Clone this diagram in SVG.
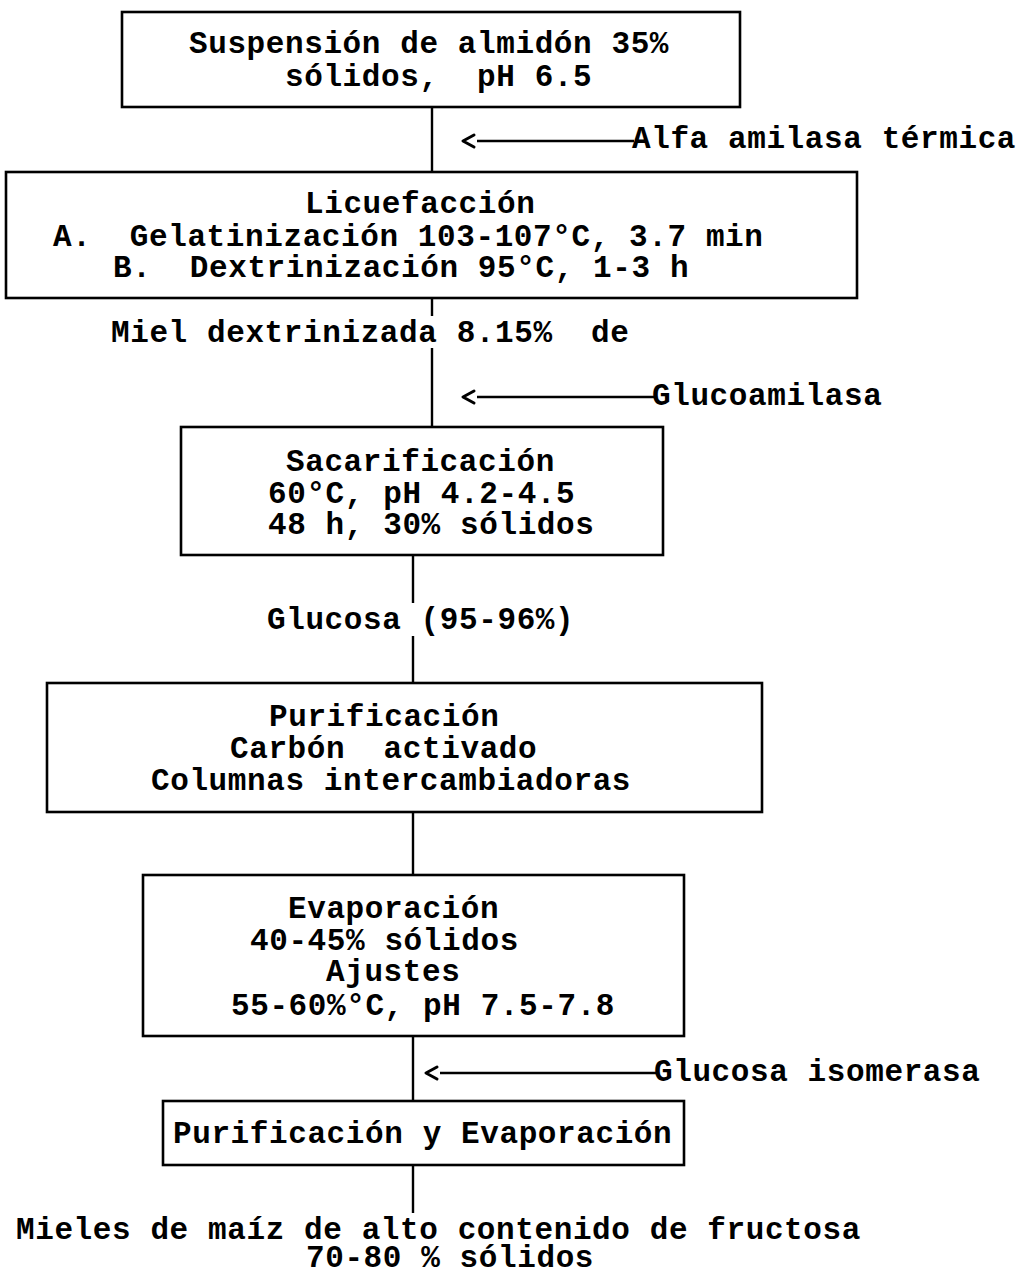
<svg xmlns="http://www.w3.org/2000/svg" width="1024" height="1274" viewBox="0 0 1024 1274">
<style>
.box{fill:#fff;stroke:#000;stroke-width:2.6}
.ln{stroke:#000;stroke-width:2.4;fill:none}
.ar{stroke:#000;stroke-width:3;fill:none;stroke-linecap:round;stroke-linejoin:round}
text{font-family:"Liberation Mono","Courier New",monospace;font-weight:bold;font-size:31px;letter-spacing:0.6px;fill:#000;white-space:pre}
</style>
<rect width="1024" height="1274" fill="#fff"/>
<g id="connectors">
<line class="ln" x1="432" y1="107" x2="432" y2="172"/>
<line class="ln" x1="432" y1="298" x2="432" y2="316"/>
<line class="ln" x1="432" y1="348" x2="432" y2="427"/>
<line class="ln" x1="413" y1="555" x2="413" y2="603"/>
<line class="ln" x1="413" y1="636" x2="413" y2="683"/>
<line class="ln" x1="413" y1="812" x2="413" y2="875"/>
<line class="ln" x1="413" y1="1036" x2="413" y2="1101"/>
<line class="ln" x1="413" y1="1165" x2="413" y2="1213"/>
<g id="arrow-alfa"><line class="ln" x1="477" y1="141" x2="634" y2="141"/><polyline class="ar" points="474,135 463,141 474,147"/></g>
<g id="arrow-gluco"><line class="ln" x1="477" y1="397" x2="654" y2="397"/><polyline class="ar" points="474,391 463,397 474,403"/></g>
<g id="arrow-iso"><line class="ln" x1="440" y1="1073" x2="656" y2="1073"/><polyline class="ar" points="437,1067 426,1073 437,1079"/></g>
</g>
<text x="632" y="148">Alfa amilasa térmica</text>
<text x="652" y="405">Glucoamilasa</text>
<text x="654" y="1081">Glucosa isomerasa</text>
<text x="111" y="342">Miel dextrinizada 8.15%  de</text>
<text x="267" y="629">Glucosa (95-96%)</text>
<g id="n1"><rect class="box" x="122" y="12" width="618" height="95"/>
<text x="189" y="53">Suspensión de almidón 35%</text>
<text x="285" y="86">sólidos,  pH 6.5</text></g>
<g id="n2"><rect class="box" x="6" y="172" width="851" height="126"/>
<text x="305" y="213">Licuefacción</text>
<text x="53" y="246">A.  Gelatinización 103-107°C, 3.7 min</text>
<text x="113" y="277">B.  Dextrinización 95°C, 1-3 h</text></g>
<g id="n3"><rect class="box" x="181" y="427" width="482" height="128"/>
<text x="286" y="471">Sacarificación</text>
<text x="268" y="503">60°C, pH 4.2-4.5</text>
<text x="268" y="534">48 h, 30% sólidos</text></g>
<g id="n4"><rect class="box" x="47" y="683" width="715" height="129"/>
<text x="269" y="726">Purificación</text>
<text x="230" y="758">Carbón  activado</text>
<text x="151" y="790">Columnas intercambiadoras</text></g>
<g id="n5"><rect class="box" x="143" y="875" width="541" height="161"/>
<text x="288" y="918">Evaporación</text>
<text x="250" y="950">40-45% sólidos</text>
<text x="326" y="981">Ajustes</text>
<text x="231" y="1015">55-60%°C, pH 7.5-7.8</text></g>
<g id="n6"><rect class="box" x="163" y="1101" width="521" height="64"/>
<text x="173" y="1143">Purificación y Evaporación</text></g>
<g id="out">
<text x="16" y="1239">Mieles de maíz de alto contenido de fructosa</text>
<text x="306" y="1267">70-80 % sólidos</text></g>
</svg>
